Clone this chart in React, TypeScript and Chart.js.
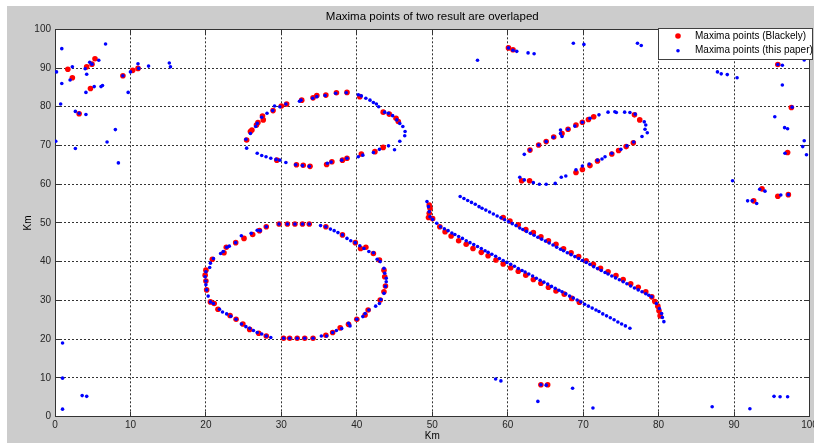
import React, { useEffect, useRef } from 'react';
import { Chart, registerables } from 'chart.js';

Chart.register(...registerables);

const TITLE = 'Maxima points of two result are overlaped';
const X_TITLE = 'Km';
const Y_TITLE = 'Km';
const SERIES = ['Maxima points (Blackely)', 'Maxima points (this paper)'];
const X_TICKS = [0, 10, 20, 30, 40, 50, 60, 70, 80, 90, 100];
const Y_TICKS = [0, 10, 20, 30, 40, 50, 60, 70, 80, 90, 100];

type P = [number, number];

// ---- Maxima points (Blackely) ----
const blackelyScatter: P[] = [
  [1.7, 89.7], [2.3, 87.5], [3.2, 78.2], [4.2, 90.3], [4.9, 91.0], [5.3, 92.4], [4.7, 84.7],
  [9.0, 88.0], [10.3, 89.4], [11.0, 89.9], [60.1, 95.2], [60.7, 94.7],
  [95.8, 90.9], [97.6, 79.8], [97.1, 68.2], [93.7, 58.8], [95.8, 56.9], [97.2, 57.3], [92.6, 55.7],
  [64.4, 8.2], [65.3, 8.2],
];
const blackelyUpperEllipse: P[] = [
  [25.4, 71.4], [25.9, 73.6], [26.1, 74.0], [26.7, 75.3], [26.9, 75.9], [27.5, 77.6], [27.6, 76.6],
  [28.9, 79.0], [30.0, 80.2], [30.7, 80.7], [32.7, 81.7], [34.2, 82.3], [34.7, 82.9], [35.9, 83.0],
  [37.3, 83.6], [38.7, 83.7], [40.4, 82.6], [43.5, 78.6], [44.3, 78.1], [45.2, 77.0], [45.5, 76.2],
  [29.4, 66.2], [32.0, 65.0], [32.9, 64.9], [33.8, 64.6], [36.0, 65.1], [36.7, 65.8], [38.1, 66.2],
  [38.7, 66.7], [40.6, 67.8], [42.4, 68.4], [43.5, 69.5],
];
const blackelyLowerEllipse: P[] = [
  [28.0, 49.0], [29.7, 49.7], [30.8, 49.7], [31.8, 49.7], [32.8, 49.7], [33.7, 49.7], [35.9, 49.0],
  [38.1, 46.9], [39.8, 44.9], [40.5, 43.4], [41.2, 43.7], [42.2, 42.1], [43.0, 40.4], [43.6, 37.8],
  [43.7, 36.1], [43.8, 33.7], [43.6, 32.2], [43.1, 30.1], [41.5, 27.5], [41.1, 26.2], [40.0, 25.1],
  [38.9, 23.8], [37.8, 22.9], [36.8, 21.7], [35.9, 21.0], [34.2, 20.2], [33.1, 20.2], [32.1, 20.2],
  [31.1, 20.2], [30.3, 20.2], [28.0, 20.8], [27.0, 21.5], [25.8, 22.5], [24.9, 23.9], [24.0, 25.1],
  [23.2, 26.1], [21.6, 27.7], [21.1, 29.2], [20.6, 29.6], [20.1, 32.7], [20.0, 35.0], [19.9, 36.5],
  [20.0, 37.8], [20.85, 40.6], [22.4, 42.3], [22.7, 43.7], [23.95, 44.9], [25.05, 46.0], [26.2, 47.0],
  [27.1, 48.0],
];
const blackelyRightEllipse: P[] = [
  [61.85, 60.9], [62.9, 60.9], [62.95, 68.8], [64.1, 70.1], [65.1, 71.0], [66.1, 72.2], [67.2, 73.1],
  [68.0, 74.2], [69.05, 75.3], [69.9, 76.0], [70.7, 76.7], [71.4, 77.4], [76.8, 77.9], [77.5, 76.6],
  [76.65, 70.7], [75.7, 69.7], [74.7, 68.7], [73.8, 67.8], [71.9, 66.0], [70.9, 64.8], [69.9, 63.8],
  [69.05, 63.0],
];
const blackelyUpperLine: P[] = [
  [59.4, 51.4], [60.3, 50.5], [61.4, 49.5], [62.4, 48.3], [63.4, 47.5], [64.4, 46.4], [65.4, 45.4],
  [66.4, 44.5], [67.4, 43.3], [68.4, 42.3], [69.4, 41.3], [70.4, 40.2], [71.35, 39.3], [72.3, 38.3],
  [73.3, 37.4], [74.35, 36.4], [75.3, 35.4], [76.3, 34.3], [77.3, 33.4], [78.3, 32.2], [79.1, 30.9],
  [79.5, 29.7], [79.9, 28.5], [80.05, 27.3], [80.2, 26.0],
];
const blackelyLowerLine: P[] = [
  [49.6, 54.6], [49.7, 53.8], [49.6, 52.5], [49.5, 51.4], [50.05, 51.1], [51.0, 49.0], [51.7, 47.7],
  [52.5, 46.6], [53.5, 45.4], [54.5, 44.5], [55.4, 43.4], [56.5, 42.4], [57.4, 41.5], [58.45, 40.4],
  [59.4, 39.4], [60.4, 38.4], [61.4, 37.5], [62.4, 36.5], [63.4, 35.4], [64.4, 34.4], [65.4, 33.4],
  [66.4, 32.4], [67.5, 31.6], [68.5, 30.5], [69.5, 29.5],
];

// ---- Maxima points (this paper) ----
const paperScatter: P[] = [
  [0.2, 89.0], [0.9, 95.0], [0.75, 80.7], [0.9, 86.0], [0.1, 71.1], [2.0, 86.9], [2.3, 90.3],
  [2.7, 78.8], [2.7, 69.2], [4.0, 89.8], [4.2, 88.4], [4.6, 91.5], [4.9, 91.0], [5.8, 92.0],
  [4.1, 83.7], [5.2, 85.2], [6.1, 85.2], [6.3, 85.5], [6.7, 96.2], [8.0, 74.1], [6.9, 70.9],
  [9.0, 88.0], [9.7, 83.7], [10.0, 89.0], [11.0, 91.1], [11.1, 89.9], [12.4, 90.5], [15.15, 91.3],
  [15.3, 90.3], [4.1, 78.0], [8.4, 65.5], [3.2, 78.3],
  [56.0, 92.0], [60.1, 95.2], [60.7, 94.6], [61.2, 94.3], [62.7, 93.9], [63.5, 93.7], [68.7, 96.4],
  [70.1, 96.1], [77.2, 96.4], [77.7, 95.8],
  [95.8, 90.9], [96.4, 90.7], [87.8, 89.0], [88.3, 88.5], [89.1, 88.3], [90.4, 87.5], [96.4, 85.6],
  [97.7, 79.9], [95.4, 77.4], [96.7, 74.6], [97.1, 74.3], [99.3, 71.2], [99.1, 69.7], [99.6, 67.6],
  [96.75, 68.0], [89.8, 60.9], [93.4, 58.7], [94.1, 58.2], [96.2, 57.2], [97.2, 57.3], [91.8, 55.7],
  [92.4, 55.7], [93.0, 55.0], [99.3, 92.1],
  [1.0, 19.0], [1.0, 9.9], [1.0, 1.9], [3.6, 5.4], [4.2, 5.2], [58.4, 9.7], [59.1, 9.2], [64.4, 8.2],
  [65.1, 8.1], [68.6, 7.3], [64.0, 3.9], [71.3, 2.2], [87.1, 2.5], [92.1, 2.0], [95.3, 5.2],
  [96.1, 5.1], [97.1, 5.1],
];
const paperUpperEllipse: P[] = [
  [25.3, 71.6], [25.4, 69.3], [25.9, 73.1], [26.6, 74.9], [26.8, 75.7], [27.4, 77.3], [28.1, 78.3],
  [28.85, 79.0], [29.1, 80.2], [29.8, 80.0], [30.6, 80.7], [32.4, 81.4], [32.6, 81.7], [34.15, 82.2],
  [34.7, 82.6], [35.8, 82.9], [37.2, 83.5], [38.6, 83.6], [40.2, 83.1], [40.6, 82.8], [41.2, 82.2],
  [41.75, 81.7], [42.2, 81.1], [42.6, 80.7], [42.9, 80.0], [43.7, 78.6], [44.2, 78.3], [44.75, 77.7],
  [45.3, 76.6], [45.7, 75.7], [46.1, 74.9], [46.4, 73.6], [46.35, 72.5], [45.7, 71.1], [45.0, 68.9],
  [44.2, 69.9], [43.0, 69.0], [42.2, 68.2], [40.8, 67.5], [40.2, 67.1], [38.7, 66.7], [38.0, 66.2],
  [36.6, 65.7], [36.1, 65.4], [33.7, 64.6], [32.8, 64.8], [31.9, 65.0], [30.6, 65.6], [29.8, 66.2],
  [29.3, 66.4], [28.6, 66.7], [27.97, 67.1], [27.4, 67.4], [26.8, 68.0],
];
const paperLowerEllipse: P[] = [
  [29.7, 49.7], [30.8, 49.7], [31.8, 49.7], [32.8, 49.7], [33.7, 49.7], [35.2, 49.3], [35.9, 49.0],
  [36.5, 48.4], [37.0, 48.0], [37.5, 47.5], [38.1, 46.9], [38.7, 46.0], [39.2, 45.4], [39.8, 44.9],
  [40.4, 44.1], [40.95, 43.4], [41.6, 42.6], [42.2, 42.3], [42.7, 40.6], [43.1, 40.0], [43.6, 38.3],
  [43.7, 37.0], [43.9, 35.7], [43.9, 34.8], [43.8, 33.6], [43.6, 31.8], [43.2, 30.2], [43.0, 29.2],
  [42.5, 28.5], [41.6, 27.5], [41.1, 26.6], [40.8, 25.8], [40.0, 25.1], [39.1, 23.4], [38.9, 24.1],
  [38.0, 22.7], [37.3, 22.2], [36.8, 21.7], [36.0, 20.8], [35.3, 20.8], [34.2, 20.2], [33.1, 20.2],
  [32.1, 20.2], [31.1, 20.2], [30.3, 20.2], [28.6, 20.4], [28.0, 20.8], [27.4, 21.3], [26.8, 21.7],
  [26.3, 22.2], [25.8, 22.8], [25.3, 23.2], [24.7, 23.9], [24.0, 25.1], [23.3, 25.9], [22.75, 26.5],
  [22.2, 27.0], [21.8, 27.7], [21.0, 29.2], [20.6, 29.6], [20.3, 31.1], [20.1, 32.7], [20.0, 34.0],
  [20.0, 35.0], [19.9, 36.1], [20.0, 37.4], [20.5, 38.5], [20.6, 39.6], [21.0, 40.8], [21.95, 42.1],
  [22.3, 42.6], [22.75, 43.7], [23.1, 44.0], [23.95, 44.9], [24.7, 46.7], [26.0, 47.3], [26.8, 48.1],
  [27.2, 48.0], [28.0, 49.0],
];
const paperRightEllipse: P[] = [
  [61.6, 61.8], [62.2, 61.1], [63.4, 60.4], [64.2, 60.0], [65.1, 60.0], [66.3, 60.2], [67.1, 61.8],
  [67.7, 62.1], [69.05, 63.7], [69.9, 64.7], [70.8, 65.2], [71.9, 66.2], [72.5, 66.5], [72.9, 67.1],
  [73.8, 68.0], [75.0, 69.0], [75.8, 69.9], [76.7, 70.9], [77.8, 72.3], [78.5, 73.3], [78.2, 74.2],
  [78.3, 75.3], [78.1, 76.1], [76.9, 78.1], [76.2, 78.5], [75.5, 78.6], [74.4, 78.5], [74.2, 78.7],
  [73.3, 78.6], [72.1, 77.9], [70.9, 77.0], [69.9, 76.0], [68.9, 75.0], [68.0, 74.2], [67.0, 74.0],
  [67.0, 73.1], [67.2, 72.3], [66.05, 72.1], [65.1, 71.0], [64.1, 70.1], [62.95, 68.8], [62.2, 67.7],
];
const paperUpperLine: P[] = [
  [53.7, 56.8], [54.2, 56.3], [54.7, 55.8], [55.2, 55.3], [55.7, 54.8], [56.2, 54.2], [56.6, 53.8],
  [57.1, 53.3], [57.6, 52.8], [58.1, 52.3], [58.6, 51.8], [59.1, 51.3], [59.6, 50.8], [60.1, 50.3],
  [60.6, 49.8], [61.1, 49.3], [61.6, 48.7], [62.0, 48.3], [62.5, 47.8], [63.0, 47.3], [63.5, 46.8],
  [64.0, 46.3], [64.5, 45.8], [65.0, 45.3], [65.5, 44.8], [66.0, 44.3], [66.5, 43.7], [67.0, 43.2],
  [67.4, 42.8], [67.9, 42.3], [68.4, 41.8], [68.9, 41.3], [69.4, 40.8], [69.9, 40.3], [70.4, 39.8],
  [70.9, 39.3], [71.4, 38.7], [71.9, 38.2], [72.4, 37.7], [72.9, 37.2], [73.3, 36.8], [73.8, 36.3],
  [74.3, 35.8], [74.8, 35.3], [75.3, 34.8], [75.8, 34.3], [76.3, 33.7], [76.8, 33.2], [77.3, 32.7],
  [77.8, 32.2], [78.3, 31.7], [78.7, 31.3], [79.1, 30.9], [79.7, 29.2], [80.1, 27.9], [80.4, 26.6],
  [80.5, 25.6], [80.7, 24.5],
];
const paperLowerLine: P[] = [
  [49.3, 55.5], [49.5, 54.2], [49.6, 52.9], [49.7, 51.6], [50.05, 50.9], [50.6, 49.9], [51.1, 49.0],
  [51.6, 48.5], [52.1, 48.0], [52.6, 47.4], [53.0, 47.0], [53.5, 46.5], [54.0, 46.0], [54.5, 45.4],
  [55.0, 44.9], [55.5, 44.4], [56.0, 43.9], [56.5, 43.4], [57.0, 42.8], [57.4, 42.4], [57.9, 41.9],
  [58.4, 41.4], [58.9, 40.8], [59.4, 40.3], [59.9, 39.8], [60.4, 39.3], [60.9, 38.8], [61.4, 38.2],
  [61.9, 37.7], [62.3, 37.3], [62.8, 36.8], [63.3, 36.3], [63.8, 35.7], [64.3, 35.2], [64.8, 34.7],
  [65.3, 34.2], [65.8, 33.6], [66.3, 33.1], [66.8, 32.6], [67.2, 32.2], [67.7, 31.7], [68.2, 31.1],
  [68.7, 30.6], [69.2, 30.1], [69.7, 29.6], [70.2, 29.0], [70.7, 28.5], [71.2, 28.0], [71.7, 27.5],
  [72.1, 27.1], [72.6, 26.5], [73.1, 26.0], [73.6, 25.5], [74.1, 25.0], [74.6, 24.4], [75.1, 23.9],
  [75.6, 23.4], [76.2, 22.8],
];

const FONT = "'Liberation Sans', Arial, Helvetica, sans-serif";
const RED = '#ff0000';
const BLUE = '#0000ff';

const toPts = (groups: P[][]) => groups.flat().map(([x, y]) => ({ x, y }));

const bgPlugin = {
  id: 'matlabBg',
  beforeDraw(chart: any) {
    const { ctx, width, height, chartArea: a } = chart;
    ctx.save();
    ctx.fillStyle = '#ffffff';
    ctx.fillRect(0, 0, width, height);
    ctx.fillStyle = '#cccccc';
    ctx.fillRect(7, 6, width - 7, height - 6);
    ctx.fillStyle = '#ffffff';
    ctx.fillRect(a.left, a.top, a.right - a.left, a.bottom - a.top);
    ctx.restore();
  },
};

const tickPlugin = {
  id: 'innerTicks',
  afterDatasetsDraw(chart: any) {
    const { ctx, chartArea: a } = chart;
    const xs = chart.scales.x;
    const ys = chart.scales.y;
    ctx.save();
    ctx.strokeStyle = '#333333';
    ctx.lineWidth = 1;
    ctx.beginPath();
    X_TICKS.forEach((v) => {
      const px = Math.round(xs.getPixelForValue(v) - 0.5) + 0.5;
      ctx.moveTo(px, a.bottom);
      ctx.lineTo(px, a.bottom - 5);
      ctx.moveTo(px, a.top);
      ctx.lineTo(px, a.top + 5);
    });
    Y_TICKS.forEach((v) => {
      const py = Math.round(ys.getPixelForValue(v) - 0.5) + 0.5;
      ctx.moveTo(a.left, py);
      ctx.lineTo(a.left + 5, py);
      ctx.moveTo(a.right, py);
      ctx.lineTo(a.right - 5, py);
    });
    ctx.stroke();
    ctx.restore();
  },
};

const legendPlugin = {
  id: 'matlabLegend',
  afterDraw(chart: any) {
    const { ctx } = chart;
    const x0 = 658.5;
    const y0 = 28.5;
    const w = 154;
    const h = 31;
    ctx.save();
    ctx.fillStyle = '#ffffff';
    ctx.fillRect(x0, y0, w, h);
    ctx.strokeStyle = '#404040';
    ctx.lineWidth = 1;
    ctx.strokeRect(x0, y0, w, h);
    chart.data.datasets.forEach((ds: any, i: number) => {
      const cy = y0 + 7.5 + i * 14.7;
      ctx.fillStyle = ds.backgroundColor;
      ctx.beginPath();
      ctx.arc(678, cy, ds.pointRadius, 0, Math.PI * 2);
      ctx.fill();
      ctx.fillStyle = '#000000';
      ctx.font = `10px ${FONT}`;
      ctx.textBaseline = 'middle';
      ctx.textAlign = 'left';
      ctx.fillText(ds.label, 695, cy);
    });
    ctx.restore();
  },
};

export default function App() {
  const ref = useRef<HTMLCanvasElement | null>(null);

  useEffect(() => {
    document.body.style.margin = '0';
    const canvas = ref.current;
    if (!canvas) return;
    const chart = new Chart(canvas, {
      type: 'scatter',
      data: {
        datasets: [
          {
            label: SERIES[0],
            data: toPts([
              blackelyScatter, blackelyUpperEllipse, blackelyLowerEllipse,
              blackelyRightEllipse, blackelyUpperLine, blackelyLowerLine,
            ]),
            backgroundColor: RED,
            borderColor: RED,
            borderWidth: 0,
            pointRadius: 2.8,
            pointHoverRadius: 2.8,
            order: 2,
          },
          {
            label: SERIES[1],
            data: toPts([
              paperScatter, paperUpperEllipse, paperLowerEllipse,
              paperRightEllipse, paperUpperLine, paperLowerLine,
            ]),
            backgroundColor: BLUE,
            borderColor: BLUE,
            borderWidth: 0,
            pointRadius: 1.8,
            pointHoverRadius: 1.8,
            order: 1,
          },
        ],
      },
      options: {
        responsive: false,
        animation: false,
        devicePixelRatio: 1,
        events: [],
        layout: { padding: 0 },
        plugins: {
          legend: { display: false },
          tooltip: { enabled: false },
          title: { display: false },
        },
        scales: {
          x: {
            type: 'linear',
            position: 'bottom',
            min: 0,
            max: 100,
            afterBuildTicks: (s: any) => { s.ticks = X_TICKS.map((v) => ({ value: v })); },
            afterFit: (s: any) => { s.height = 26.5; s.paddingLeft = 0; s.paddingRight = 0; },
            ticks: { padding: 3, color: '#262626', font: { family: FONT, size: 10 } },
            grid: { color: '#333333', lineWidth: 1, drawTicks: false },
            border: { display: true, color: '#333333', dash: [2, 2] },
            title: {
              display: true, text: X_TITLE, color: '#000000',
              font: { family: FONT, size: 10 }, padding: { top: 0, bottom: 1 },
            },
          },
          y: {
            type: 'linear',
            position: 'left',
            min: 0,
            max: 100,
            afterBuildTicks: (s: any) => { s.ticks = Y_TICKS.map((v) => ({ value: v })); },
            afterFit: (s: any) => { s.width = 55; s.paddingTop = 0; s.paddingBottom = 0; },
            ticks: { padding: 4, color: '#262626', font: { family: FONT, size: 10 } },
            grid: { color: '#333333', lineWidth: 1, drawTicks: false },
            border: { display: true, color: '#333333', dash: [2, 2] },
            title: {
              display: true, text: Y_TITLE, color: '#000000',
              font: { family: FONT, size: 10 }, padding: { top: 22, bottom: 0 },
            },
          },
          x2: {
            type: 'linear',
            position: 'top',
            min: 0,
            max: 100,
            afterFit: (s: any) => { s.height = 29.3; s.paddingLeft = 0; s.paddingRight = 0; },
            ticks: { display: false },
            grid: { display: false },
            border: { display: true, color: '#333333' },
            title: {
              display: true, text: TITLE, color: '#000000',
              font: { family: FONT, size: 11.5 }, padding: { top: 10.4, bottom: 0 },
            },
          },
          y2: {
            type: 'linear',
            position: 'right',
            min: 0,
            max: 100,
            afterFit: (s: any) => { s.width = 4.5; s.paddingTop = 0; s.paddingBottom = 0; },
            ticks: { display: false },
            grid: { display: false },
            border: { display: true, color: '#333333' },
          },
        },
      } as any,
      plugins: [bgPlugin, tickPlugin, legendPlugin],
    });
    return () => chart.destroy();
  }, []);

  return (
    <div style={{ width: 814, height: 443 }}>
      <canvas ref={ref} width={814} height={443} style={{ display: 'block', width: 814, height: 443 }} />
    </div>
  );
}
